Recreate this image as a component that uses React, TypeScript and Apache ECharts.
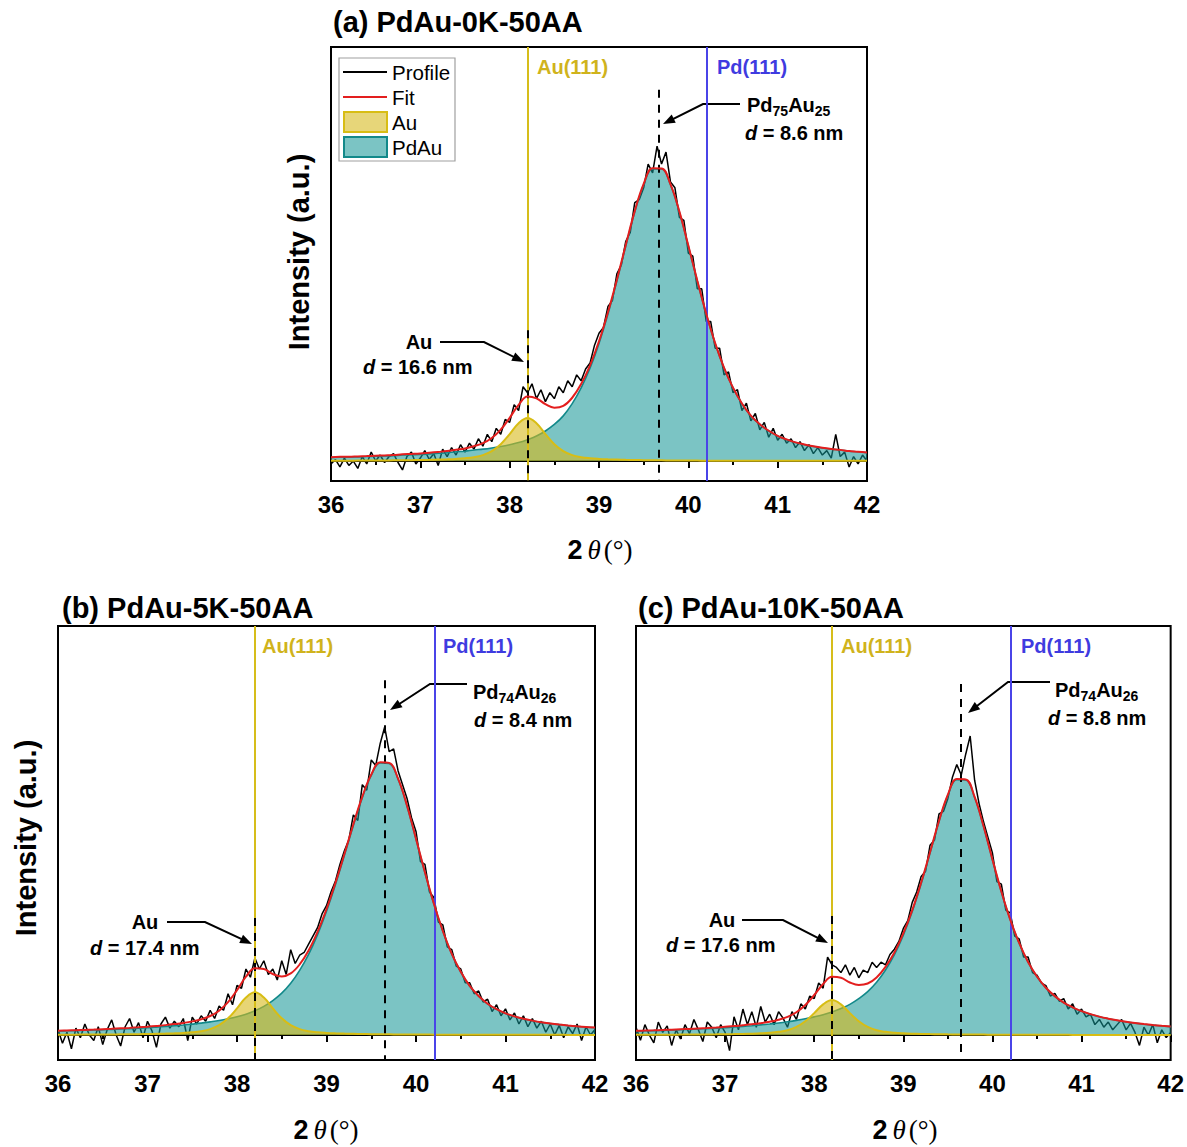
import React, { useEffect, useRef } from "react";
import * as echarts from "echarts";

// ---------- DATA ----------
const X_MIN = 36;
const X_MAX = 42;
const X_INTERVAL = 1;
const COMP_START = 36;
const COMP_STEP = 0.1; // component / fit sampling step (61 points)
const PROF_START = 36;
const PROF_STEP = 0.05; // measured profile sampling step (121 points)

const panelTitles = ["(a) PdAu-0K-50AA", "(b) PdAu-5K-50AA", "(c) PdAu-10K-50AA"];
const auRefPos = 38.2; // Au(111)
const pdRefPos = 40.21; // Pd(111)
const auPeakPos = [38.2, 38.2, 38.2];
const pdauPeakPos = [39.67, 39.65, 39.65];
const alloyNames = [["75", "25"], ["74", "26"], ["74", "26"]];
const pdauSizes = ["8.6", "8.4", "8.8"];
const auSizes = ["16.6", "17.4", "17.6"];
const yRanges = [[-6.73, 139.4], [-9.09, 148.7], [-9.6, 157.3]];
const auDashTop = [44, 42.5, 45.8];
const pdauDashTop = [125, 129, 135];

// Au component (36.0 .. 42.0 step 0.1)
const auA = [0.10,0.11,0.12,0.14,0.15,0.17,0.19,0.22,0.25,0.28,0.33,0.39,0.47,0.57,0.71,0.93,1.3,2.0,3.35,5.67,9.05,12.7,14.5,12.7,9.05,5.67,3.35,2.0,1.3,0.93,0.71,0.57,0.47,0.39,0.33,0.28,0.25,0.22,0.19,0.17,0.15,0.14,0.12,0.11,0.10,0.10,0.09,0.09,0.08,0.08,0.07,0.07,0.07,0.06,0.06,0.06,0.06,0.05,0.05,0.05,0.05];
const auB = [0.11,0.12,0.13,0.15,0.16,0.18,0.20,0.23,0.26,0.30,0.35,0.42,0.50,0.61,0.76,0.99,1.40,2.14,3.58,6.06,9.67,13.6,15.5,13.6,9.67,6.06,3.58,2.14,1.40,0.99,0.76,0.61,0.50,0.42,0.35,0.30,0.26,0.23,0.20,0.18,0.16,0.15,0.13,0.12,0.11,0.10,0.09,0.08,0.08,0.07,0.07,0.06,0.06,0.05,0.05,0.05,0.05,0.04,0.04,0.04,0.04];
const auC = [0.09,0.10,0.11,0.13,0.14,0.16,0.18,0.20,0.23,0.26,0.31,0.36,0.44,0.53,0.66,0.86,1.22,1.86,3.12,5.28,8.42,11.8,13.5,11.8,8.42,5.28,3.12,1.86,1.22,0.86,0.66,0.53,0.44,0.36,0.31,0.26,0.23,0.20,0.18,0.16,0.14,0.13,0.11,0.10,0.09,0.09,0.08,0.07,0.07,0.06,0.06,0.06,0.05,0.05,0.05,0.04,0.04,0.04,0.04,0.04,0.03];

// PdAu component (36.0 .. 42.0 step 0.1)
const pdauA = [1.2,1.3,1.3,1.4,1.5,1.6,1.7,1.8,2.0,2.1,2.2,2.4,2.6,2.8,3.1,3.3,3.7,4.0,4.4,4.9,5.5,6.2,7.2,8.4,10.1,12.3,15.2,19.3,24.6,31.3,39.6,49.5,60.6,72.4,83.8,93.0,98.3,98.3,93.0,83.8,72.4,60.6,49.5,39.6,31.3,24.6,19.3,15.2,12.3,10.1,8.4,7.2,6.2,5.5,4.9,4.4,4.0,3.7,3.3,3.1,2.8];
const pdauB = [1.44,1.52,1.61,1.70,1.80,1.92,2.04,2.18,2.33,2.49,2.67,2.88,3.09,3.35,3.63,3.96,4.32,4.77,5.26,5.88,6.63,7.58,8.81,10.4,12.5,15.2,18.8,23.5,29.3,36.5,45.0,54.7,65.3,76.2,86.3,94.4,98.9,98.7,93.0,83.2,71.2,59.0,47.6,37.7,29.4,22.9,17.8,14.1,11.3,9.3,7.8,6.7,5.85,5.18,4.60,4.15,3.76,3.43,3.13,2.88,2.65];
const pdauC = [1.53,1.62,1.71,1.81,1.92,2.05,2.18,2.33,2.48,2.66,2.86,3.07,3.32,3.59,3.91,4.26,4.65,5.11,5.63,6.24,6.98,7.84,8.89,10.2,11.8,14.0,16.7,20.3,25.0,30.9,38.4,47.5,58.2,70.0,82.0,92.2,98.2,98.1,91.4,80.2,67.4,55.1,44.3,35.3,28.0,22.4,18.1,14.9,12.4,10.6,9.12,7.97,7.02,6.25,5.60,5.06,4.58,4.17,3.81,3.49,3.22];

// Measured profiles (36.00 .. 42.00 step 0.05)
const profileA = [
  -1,0.5,-2,1,-1.5,0,-2.5,1.5,-1,3,
  0,2,-0.5,1.5,2.5,-0.5,-3,1.5,3,-1,
  1,3.5,0.5,2.5,-1.5,4,1.5,4.5,2,5.5,
  3,6,4,7.5,5,9,6.5,11,9,14,
  13,19,17,25,23,26,21,24,20,23,
  21,25,23,27,25,29,27,31,33,39,
  43,45,52,54,63,66,74,77,87,88,
  92,100,97,106,100,104,94,92,82,81,
  70,69,58,58,47,47,38,38,29,30,
  23,24,17,19.5,13.5,16,10.5,13,8,11,
  7,9,6,7.5,4.5,6.5,3.5,5.5,2.5,4.5,
  2,3.5,1,9,1.5,3,-2,1.5,-1,2,
  0];
const profileB = [
  2,-3,1,-5,2.5,-1,4,0,-2,3,
  -3.5,2,5.5,0,-4,3,6,1,4.5,-1,
  5,1.5,-4.5,4,6.5,2.5,5,3,6,-2,
  6.5,4,7,5,9,6,10.5,9,15,11,
  18,17,24,21,28,24,27,22,24,20,
  27,22,31,26,29,30,33,36,39,44,
  47,52,56,62,67,71,80,78,91,89,
  100,98,106,112,103,104,96,91,86,79,
  74,63,62,52,50,41,40,32,31,25,
  24,19,19,15,16,12,13,8.5,11,7,
  9.5,5.5,8,4,7,3,6,2.5,5,1,
  4,0,3.5,-1,3,0.5,4,-2,3,0,
  2];
const profileC = [
  3,-2,4,0,-3,5,1,3.5,-4,2,
  -1.5,4,0.5,6,2,-2.5,5,3,-1,4,
  1,-6,7,2,10,4,9,3,11,5,
  8,4,9,6.5,3,9,6,12,10,15,
  14,20,18,30,27,26,24,27,23,26,
  22,25,24,28,26,28,27,31,33,36,
  41,44,51,55,61,63,73,75,85,86,
  91,99,104,100,108,115,98,89,82,76,
  70,59,58,48,47,38,37,30,30,24,
  23,20,19,15,16,13,14,10,12,8,
  10,7,8,4,6,3,5,2,4,6,
  2,4.5,1,-4,3,0,4,-3,2,-1,
  1];

const profiles = [profileA, profileB, profileC];
const auComps = [auA, auB, auC];
const pdauComps = [pdauA, pdauB, pdauC];

// ---------- LAYOUT / STYLE ----------
const W = 1187;
const H = 1147;
const SANS = '"Liberation Sans", Arial, Helvetica, sans-serif';
const SERIF = '"Liberation Serif", "Times New Roman", serif';
const GRIDS = [
  { left: 331, top: 47, width: 536, height: 434 },
  { left: 58, top: 626, width: 537, height: 434 },
  { left: 636, top: 626, width: 537, height: 434 },
];
const C_PROFILE = "#000000";
const C_FIT = "#e31e1e";
const C_AU_LINE = "#d8bd14";
const C_AU_FILL = "rgba(215,185,25,0.6)";
const C_PDAU_LINE = "#12898a";
const C_PDAU_FILL = "rgba(20,150,150,0.56)";
const C_AUREF = "#d6bd1a";
const C_AUREF_TEXT = "#d0b31c";
const C_PDREF = "#4a44e8";
const C_PDREF_TEXT = "#3f3be0";

// annotation layout (pixels)
const TITLE_POS = [[333, 22], [62, 608], [638, 608]];
const YLABEL_POS = [[299, 252], [26, 838], null];
const XLABEL_POS = [[600, 550], [326, 1130], [905, 1130]];
const AUREF_TEXT_POS = [[537, 67], [262, 646], [841, 646]];
const PDREF_TEXT_POS = [[717, 67], [443, 646], [1021, 646]];
const ALLOY_TEXT_POS = [[747, 105], [473, 692], [1055, 690]];
const ALLOY_D_POS = [[745, 133], [474, 720], [1048, 718]];
const AU_TEXT_POS = [[419, 342], [145, 922], [722, 920]];
const AU_D_POS = [[363, 367], [90, 948], [666, 945]];
const ALLOY_ARROW = [
  [[740, 104], [703, 104], [663, 124]],
  [[467, 684], [430, 684], [390, 710]],
  [[1050, 682], [1008, 682], [968, 713]],
];
const AU_ARROW = [
  [[440, 342], [484, 342], [524, 362]],
  [[167, 922], [205, 922], [252, 944]],
  [[742, 920], [783, 920], [828, 943]],
];

function arrow(pts: number[][]) {
  const tip = pts[pts.length - 1];
  const prev = pts[pts.length - 2];
  const dx = tip[0] - prev[0];
  const dy = tip[1] - prev[1];
  const len = Math.sqrt(dx * dx + dy * dy);
  const ux = dx / len, uy = dy / len;
  const L = 12, Wd = 4.5;
  const bx = tip[0] - ux * L, by = tip[1] - uy * L;
  const px = -uy * Wd, py = ux * Wd;
  const linePts = pts.slice(0, -1).concat([[tip[0] - ux * 6, tip[1] - uy * 6]]);
  return [
    { type: "polyline", silent: true, shape: { points: linePts }, style: { stroke: "#000", lineWidth: 2, fill: null } },
    { type: "polygon", silent: true, shape: { points: [tip, [bx + px, by + py], [bx - px, by - py]] }, style: { fill: "#000" } },
  ];
}

function txt(x: number, y: number, text: string, font: string, fill = "#000", align = "left", extra: any = {}) {
  return { type: "text", x, y, silent: true, style: { text, font, fill, align, verticalAlign: "middle", ...extra } };
}

function buildOption() {
  const grid: any[] = [];
  const xAxis: any[] = [];
  const yAxis: any[] = [];
  const series: any[] = [];
  const elements: any[] = [];

  for (let i = 0; i < 3; i++) {
    const g = GRIDS[i];
    grid.push({ ...g, show: true, borderColor: "#000", borderWidth: 2, backgroundColor: "transparent" });
    xAxis.push({
      gridIndex: i, type: "value", min: X_MIN, max: X_MAX, interval: X_INTERVAL,
      axisLine: { show: true, lineStyle: { color: "#000", width: 2 } },
      axisTick: { show: true, length: 7, lineStyle: { color: "#000", width: 2 } },
      minorTick: { show: true, splitNumber: 2, length: 4, lineStyle: { color: "#000", width: 2 } },
      axisLabel: { fontSize: 24, fontWeight: "bold", color: "#000", fontFamily: SANS, margin: 11 },
      splitLine: { show: false },
    });
    yAxis.push({
      gridIndex: i, type: "value", min: yRanges[i][0], max: yRanges[i][1],
      axisLine: { show: false }, axisTick: { show: false }, axisLabel: { show: false }, splitLine: { show: false },
    });

    const prof = profiles[i];
    const au = auComps[i];
    const pd = pdauComps[i];
    const profData = prof.map((v, k) => [+(PROF_START + k * PROF_STEP).toFixed(2), v]);
    const auData = au.map((v, k) => [+(COMP_START + k * COMP_STEP).toFixed(1), v]);
    const pdData = pd.map((v, k) => [+(COMP_START + k * COMP_STEP).toFixed(1), v]);
    const fitData = au.map((v, k) => [+(COMP_START + k * COMP_STEP).toFixed(1), v + pd[k]]);
    const [yMin, yMax] = yRanges[i];

    series.push({
      type: "line", name: "Profile", xAxisIndex: i, yAxisIndex: i, data: profData,
      symbol: "none", silent: true, lineStyle: { color: C_PROFILE, width: 1.5 }, z: 2,
    });
    series.push({
      type: "line", name: "PdAu", xAxisIndex: i, yAxisIndex: i, data: pdData, smooth: 0.4,
      symbol: "none", silent: true, lineStyle: { color: C_PDAU_LINE, width: 1.6 },
      areaStyle: { color: C_PDAU_FILL, opacity: 1, origin: "auto" }, z: 3,
    });
    series.push({
      type: "line", name: "Au", xAxisIndex: i, yAxisIndex: i, data: auData, smooth: 0.4,
      symbol: "none", silent: true, lineStyle: { color: C_AU_LINE, width: 2 },
      areaStyle: { color: C_AU_FILL, opacity: 1, origin: "auto" }, z: 4,
      markLine: {
        silent: true, symbol: ["none", "none"], label: { show: false }, z: 5,
        data: [
          [{ coord: [auRefPos, yMin], lineStyle: { color: C_AUREF, width: 2, type: "solid" } }, { coord: [auRefPos, yMax] }],
          [{ coord: [pdRefPos, yMin], lineStyle: { color: C_PDREF, width: 2, type: "solid" } }, { coord: [pdRefPos, yMax] }],
          [{ coord: [auPeakPos[i], auDashTop[i]], lineStyle: { color: "#000", width: 2, type: [8, 7] } }, { coord: [auPeakPos[i], yMin] }],
          [{ coord: [pdauPeakPos[i], pdauDashTop[i]], lineStyle: { color: "#000", width: 2, type: [8, 7] } }, { coord: [pdauPeakPos[i], yMin] }],
        ],
      },
    });
    series.push({
      type: "line", name: "Fit", xAxisIndex: i, yAxisIndex: i, data: fitData, smooth: 0.4,
      symbol: "none", silent: true, lineStyle: { color: C_FIT, width: 2 }, z: 6,
    });

    // texts
    elements.push(txt(TITLE_POS[i][0], TITLE_POS[i][1], panelTitles[i], `bold 29px ${SANS}`));
    const yl = YLABEL_POS[i];
    if (yl) {
      elements.push({
        type: "text", x: yl[0], y: yl[1], rotation: Math.PI / 2, silent: true,
        style: { text: "Intensity (a.u.)", font: `bold 29px ${SANS}`, fill: "#000", align: "center", verticalAlign: "middle" },
      });
    }
    elements.push({
      type: "text", x: XLABEL_POS[i][0], y: XLABEL_POS[i][1], silent: true,
      style: {
        text: "{n|2}{t|θ}{p|(°)}", align: "center", verticalAlign: "middle",
        rich: {
          n: { font: `bold 27px ${SANS}`, fill: "#000", padding: [0, 5, 0, 0] },
          t: { font: `italic 27px ${SERIF}`, fill: "#000" },
          p: { font: `27px ${SERIF}`, fill: "#000", padding: [0, 0, 0, 3] },
        },
      },
    });
    elements.push(txt(AUREF_TEXT_POS[i][0], AUREF_TEXT_POS[i][1], "Au(111)", `bold 20px ${SANS}`, C_AUREF_TEXT));
    elements.push(txt(PDREF_TEXT_POS[i][0], PDREF_TEXT_POS[i][1], "Pd(111)", `bold 20px ${SANS}`, C_PDREF_TEXT));
    const [s1, s2] = alloyNames[i];
    elements.push({
      type: "text", x: ALLOY_TEXT_POS[i][0], y: ALLOY_TEXT_POS[i][1], silent: true,
      style: {
        text: `{b|Pd}{s|${s1}}{b|Au}{s|${s2}}`, align: "left", verticalAlign: "middle",
        rich: {
          b: { font: `bold 20px ${SANS}`, fill: "#000", lineHeight: 26, verticalAlign: "middle" },
          s: { font: `bold 14px ${SANS}`, fill: "#000", lineHeight: 26, verticalAlign: "bottom" },
        },
      },
    });
    elements.push({
      type: "text", x: ALLOY_D_POS[i][0], y: ALLOY_D_POS[i][1], silent: true,
      style: {
        text: `{i|d}{b| = ${pdauSizes[i]} nm}`, align: "left", verticalAlign: "middle",
        rich: { i: { font: `italic bold 20px ${SANS}`, fill: "#000" }, b: { font: `bold 20px ${SANS}`, fill: "#000" } },
      },
    });
    elements.push(txt(AU_TEXT_POS[i][0], AU_TEXT_POS[i][1], "Au", `bold 20px ${SANS}`, "#000", "center"));
    elements.push({
      type: "text", x: AU_D_POS[i][0], y: AU_D_POS[i][1], silent: true,
      style: {
        text: `{i|d}{b| = ${auSizes[i]} nm}`, align: "left", verticalAlign: "middle",
        rich: { i: { font: `italic bold 20px ${SANS}`, fill: "#000" }, b: { font: `bold 20px ${SANS}`, fill: "#000" } },
      },
    });
    elements.push(...arrow(ALLOY_ARROW[i]));
    elements.push(...arrow(AU_ARROW[i]));
  }

  // legend (panel a)
  const LX = 339, LY = 58;
  elements.push({ type: "rect", silent: true, shape: { x: LX, y: LY, width: 116, height: 103 }, style: { fill: "#fff", stroke: "#a0a0a0", lineWidth: 1.2 }, z: 10 });
  const legendItems = [
    { name: "Profile", kind: "line", color: C_PROFILE },
    { name: "Fit", kind: "line", color: C_FIT },
    { name: "Au", kind: "rect", color: "rgb(231,214,121)", stroke: C_AU_LINE },
    { name: "PdAu", kind: "rect", color: "rgb(123,196,196)", stroke: C_PDAU_LINE },
  ];
  legendItems.forEach((it, k) => {
    const cy = LY + 14 + k * 25;
    if (it.kind === "line") {
      elements.push({ type: "line", silent: true, z: 11, shape: { x1: LX + 4, y1: cy, x2: LX + 48, y2: cy }, style: { stroke: it.color, lineWidth: 2 } });
    } else {
      elements.push({ type: "rect", silent: true, z: 11, shape: { x: LX + 5, y: cy - 10, width: 43, height: 20 }, style: { fill: it.color, stroke: it.stroke, lineWidth: 2 } });
    }
    elements.push({ ...txt(LX + 53, cy, it.name, `20.5px ${SANS}`), z: 11 });
  });

  return {
    animation: false,
    backgroundColor: "#fff",
    grid, xAxis, yAxis, series,
    graphic: { elements },
  };
}

export default function App() {
  const ref = useRef<HTMLDivElement>(null);
  useEffect(() => {
    if (!ref.current) return;
    const chart = echarts.init(ref.current, null, { renderer: "svg" });
    chart.setOption(buildOption() as any);
    return () => chart.dispose();
  }, []);
  return <div ref={ref} style={{ position: "absolute", left: 0, top: 0, width: W, height: H }} />;
}
